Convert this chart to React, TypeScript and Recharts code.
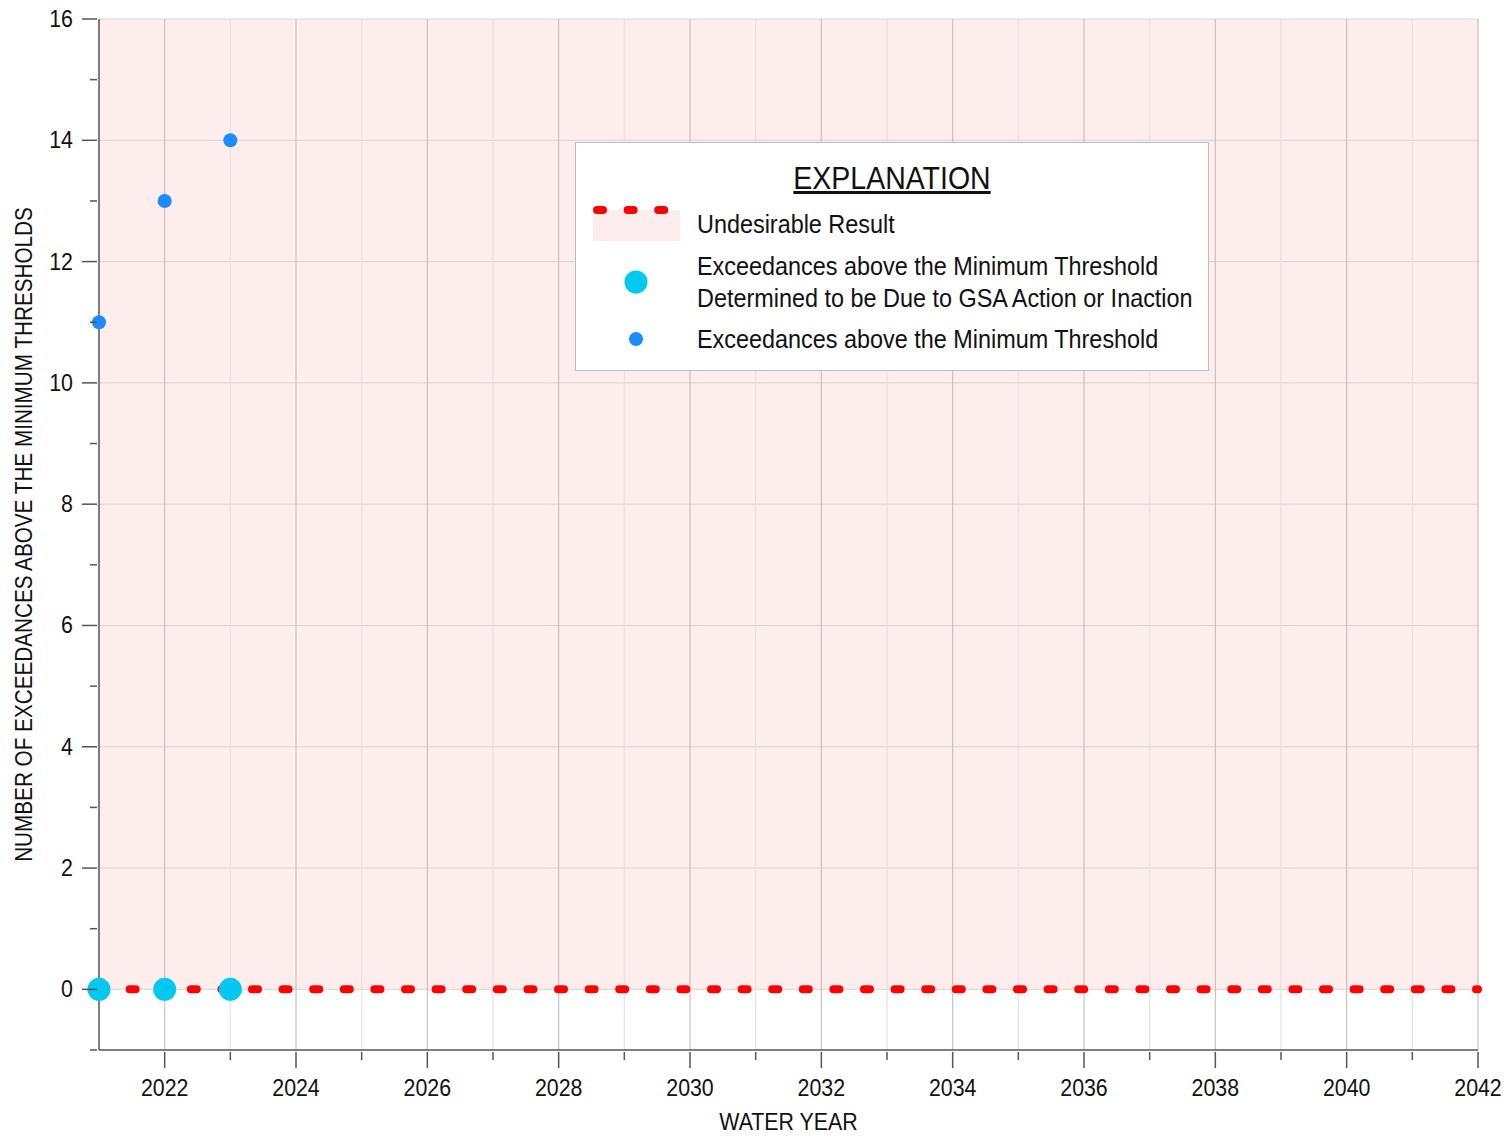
import { ComposedChart, Line, Scatter, XAxis, YAxis, ReferenceArea, ReferenceLine, Label } from 'recharts';

// water years on the x axis
const years = [2021, 2022, 2023, 2024, 2025, 2026, 2027, 2028, 2029, 2030, 2031, 2032, 2033, 2034, 2035, 2036, 2037, 2038, 2039, 2040, 2041, 2042];
const yTicks = [-1, 0, 1, 2, 3, 4, 5, 6, 7, 8, 9, 10, 11, 12, 13, 14, 15, 16];
const yGridValues = [2, 4, 6, 8, 10, 12, 14, 16];

// undesirable result line (0 exceedances)
const undesirableYears = [2021, 2042];
const undesirableValues = [0, 0];

// exceedances above the minimum threshold
const exceedYears = [2021, 2022, 2023];
const exceedCounts = [11, 13, 14];

// exceedances due to GSA action or inaction
const gsaYears = [2021, 2022, 2023];
const gsaCounts = [0, 0, 0];

const undesirableData = undesirableYears.map((year, i) => ({ year, value: undesirableValues[i] }));
const exceedData = exceedYears.map((year, i) => ({ year, value: exceedCounts[i] }));
const gsaData = gsaYears.map((year, i) => ({ year, value: gsaCounts[i] }));

const FONT = "'Liberation Sans', Arial, sans-serif";
const AXIS = '#555';
const SQUEEZE = 0.89; // no narrow font available, so squeeze text horizontally

// svg text squeezed around its anchor point
const NarrowText = ({ x, y, children, anchor = 'middle', size = 24, rotate = 0, squeeze = SQUEEZE }: any) => (
  <text
    transform={`translate(${x}, ${y}) rotate(${rotate}) scale(${squeeze}, 1)`}
    x={0}
    y={0}
    textAnchor={anchor}
    fontSize={size}
    fill="#111"
    fontFamily={FONT}
  >
    {children}
  </text>
);

const XTick = (props: any) => {
  const { x, y, payload } = props;
  const major = payload.value % 2 === 0;
  return (
    <g>
      {payload.value !== 2021 && (
        <line x1={x} y1={y} x2={x} y2={y + (major ? 16 : 8)} stroke={AXIS} strokeWidth={1.5} />
      )}
      {major && (
        <NarrowText x={x} y={y + 44}>
          {payload.value}
        </NarrowText>
      )}
    </g>
  );
};

const YTick = (props: any) => {
  const { x, y, payload } = props;
  const major = payload.value % 2 === 0;
  return (
    <g>
      <line x1={x} y1={y} x2={x - (major ? 15 : 7)} y2={y} stroke={AXIS} strokeWidth={1.5} />
      {major && (
        <NarrowText x={x - 24} y={y + 8} anchor="end">
          {payload.value}
        </NarrowText>
      )}
    </g>
  );
};

const narrowDiv = {
  transform: 'scaleX(0.9)',
  transformOrigin: 'left center',
  whiteSpace: 'nowrap' as const,
};

function Explanation() {
  return (
    <div
      style={{
        position: 'absolute',
        left: 575,
        top: 142,
        width: 632,
        height: 227,
        background: 'white',
        border: '1.5px solid #bdbdbd',
        fontFamily: FONT,
        color: '#111',
      }}
    >
      <div
        style={{
          position: 'absolute',
          left: 0,
          width: 632,
          top: 17,
          textAlign: 'center',
          fontSize: 32,
          textDecoration: 'underline',
          transform: `scaleX(${SQUEEZE})`,
          transformOrigin: '316px 50%',
        }}
      >
        EXPLANATION
      </div>
      <svg width={110} height={230} style={{ position: 'absolute', left: 0, top: 0 }}>
        <rect x={17} y={67} width={87} height={31} fill="#fdeeed" />
        <line x1={21} y1={67} x2={100} y2={67} stroke="#ff0000" strokeWidth={8} strokeLinecap="round" strokeDasharray="6 24.6" />
        <circle cx={60} cy={139} r={11.5} fill="#00c8f0" />
        <circle cx={60} cy={196} r={7} fill="#1a8cff" />
      </svg>
      <div style={{ position: 'absolute', left: 121, top: 65, fontSize: 26, lineHeight: '32px', ...narrowDiv }}>
        Undesirable Result
      </div>
      <div style={{ position: 'absolute', left: 121, top: 107, fontSize: 26, lineHeight: '32px', ...narrowDiv }}>
        Exceedances above the Minimum Threshold
        <br />
        Determined to be Due to GSA Action or Inaction
      </div>
      <div style={{ position: 'absolute', left: 121, top: 180, fontSize: 26, lineHeight: '32px', ...narrowDiv }}>
        Exceedances above the Minimum Threshold
      </div>
    </div>
  );
}

export default function App() {
  return (
    <div style={{ position: 'absolute', left: 0, top: 0, width: 1508, height: 1137, background: 'white' }}>
      <ComposedChart width={1508} height={1137} margin={{ top: 19, right: 30, left: 0, bottom: 0 }}>
        <XAxis
          type="number"
          dataKey="year"
          domain={[2021, 2042]}
          ticks={years}
          interval={0}
          height={87}
          tickSize={0}
          tickLine={false}
          tick={<XTick />}
          stroke={AXIS}
          strokeWidth={1.5}
        >
          <Label
            content={({ viewBox }: any) => (
              <NarrowText x={viewBox.x + viewBox.width / 2} y={viewBox.y + 80}>
                WATER YEAR
              </NarrowText>
            )}
          />
        </XAxis>
        <YAxis
          type="number"
          dataKey="value"
          domain={[-1, 16]}
          ticks={yTicks}
          interval={0}
          width={99}
          tickSize={0}
          tickLine={false}
          tick={<YTick />}
          stroke={AXIS}
          strokeWidth={1.5}
        >
          <Label
            content={({ viewBox }: any) => (
              <NarrowText x={32} y={viewBox.y + viewBox.height / 2} rotate={-90} size={23} squeeze={0.9}>
                NUMBER OF EXCEEDANCES ABOVE THE MINIMUM THRESHOLDS
              </NarrowText>
            )}
          />
        </YAxis>

        <ReferenceArea x1={2021} x2={2042} y1={0} y2={16} fill="#fdeeed" fillOpacity={1} stroke="none" />

        {yGridValues.map((v) => (
          <ReferenceLine key={`h${v}`} y={v} stroke="#e0d2d2" strokeWidth={1} />
        ))}
        <ReferenceLine y={0} stroke="#e0d2d2" strokeWidth={1} />
        {years.slice(1).map((yr) => (
          <ReferenceLine
            key={`v${yr}`}
            x={yr}
            stroke={yr % 2 === 0 ? '#c9c1c1' : '#e8e0e0'}
            strokeWidth={1.2}
          />
        ))}

        <Line
          data={undesirableData}
          dataKey="value"
          stroke="#ff0000"
          strokeWidth={8}
          strokeLinecap="round"
          strokeDasharray="6 24.6"
          dot={false}
          activeDot={false}
          isAnimationActive={false}
        />
        <Scatter
          data={exceedData}
          dataKey="value"
          isAnimationActive={false}
          shape={(p: any) => <circle cx={p.cx} cy={p.cy} r={7} fill="#1a8cff" />}
        />
        <Scatter
          data={gsaData}
          dataKey="value"
          isAnimationActive={false}
          shape={(p: any) => <circle cx={p.cx} cy={p.cy} r={11.5} fill="#00c8f0" />}
        />
      </ComposedChart>
      <Explanation />
    </div>
  );
}
